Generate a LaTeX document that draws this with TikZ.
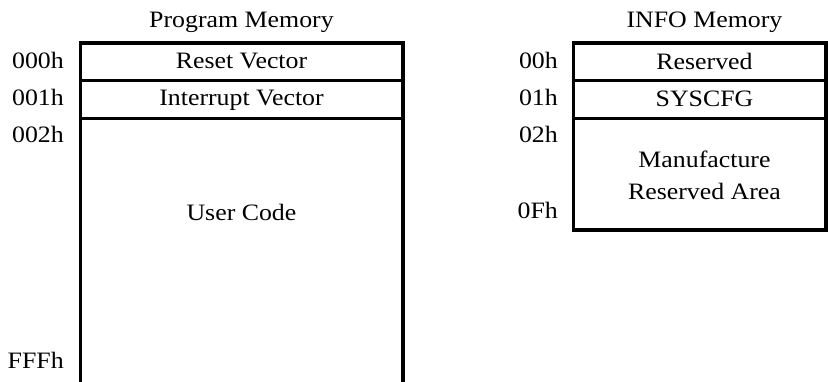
\documentclass[tikz,border=0pt]{standalone}
\usepackage{fontspec}
\setmainfont{Liberation Serif}[FakeStretch=1.1]
\usetikzlibrary{positioning}

\tikzset{
  txt/.style = {font = {\fontsize{23.5}{26}\selectfont}, black, inner sep = 0pt, anchor = base},
  addr/.style = {txt, anchor = base east},
  wall/.style = {line width = 3.5pt, black},
  sep/.style = {line width = 3pt, black},
}

\begin{document}
\begin{tikzpicture}[x=1pt, y=-1pt]
  \useasboundingbox (0,0) rectangle (828,382);

  % program memory
  \draw[wall] (80.5,382) -- (80.5,43) -- (403,43) -- (403,382);
  \draw[sep] (80.5,80.5) -- (403,80.5);
  \draw[sep] (80.5,118.5) -- (403,118.5);

  \node[txt] (pmtitle) at (241.5, 27.5) {Program Memory};
  \node[txt] (reset) at (241.5, 68.5) {Reset Vector};
  \node[txt] (irq) at (241.5, 106) {Interrupt Vector};
  \node[txt] (user) at (241.5, 221) {User Code};

  \node[addr] (a000) at (64, 68.5) {000h};
  \node[addr] (a001) at (64, 106) {001h};
  \node[addr] (a002) at (64, 143) {002h};
  \node[addr] (afff) at (64, 368) {FFFh};

  % info memory
  \draw[wall] (573.5,43) rectangle (826,230);
  \draw[sep] (573.5,80.5) -- (826,80.5);
  \draw[sep] (573.5,118.5) -- (826,118.5);

  \node[txt] (infotitle) at (704.5, 27.5) {INFO Memory};
  \node[txt] (rsvd) at (704.5, 69.5) {Reserved};
  \node[txt] (syscfg) at (704.5, 107) {SYSCFG};
  \node[txt] (mfr) at (704.5, 168) {Manufacture};
  \node[txt] (mfrarea) at (704.5, 200) {Reserved Area};

  \node[addr] (a00) at (558, 68.5) {00h};
  \node[addr] (a01) at (558, 106) {01h};
  \node[addr] (a02) at (558, 143) {02h};
  \node[addr] (a0f) at (558, 219) {0Fh};
\end{tikzpicture}
\end{document}
